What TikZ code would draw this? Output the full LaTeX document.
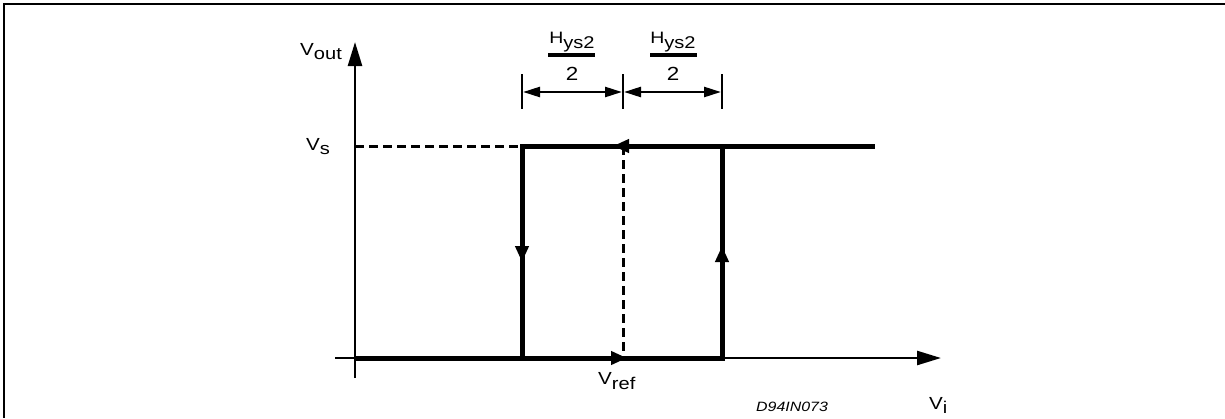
\documentclass[tikz,border=0pt]{standalone}
\usepackage{fontspec}
\setmainfont{Liberation Sans}
\usetikzlibrary{arrows.meta}
\newcommand{\wide}[1]{\scalebox{1.18}[1]{#1}}
\newcommand{\lowsub}[2][5pt]{\raisebox{-#1}{\fontsize{17}{17}\selectfont #2}}
\begin{document}
\begin{tikzpicture}[x=1pt,y=-1pt,
  axisarrow/.style={line width=2.5pt,-{Triangle[length=24pt,width=14pt]}},
  loop/.style={line width=5pt},
  dashln/.style={line width=3pt,dash pattern=on 9pt off 5pt},
  midarrow/.style={line width=5pt,-{Triangle[length=16pt,width=13pt]},shorten >=-2pt},
  dimline/.style={line width=2.5pt,{Triangle[length=17pt,width=10pt]}-{Triangle[length=17pt,width=10pt]}},
  tick/.style={line width=2.5pt},
  fracbar/.style={line width=3.5pt},
  lbl/.style={inner sep=0pt,font=\fontsize{17.5}{17.5}\selectfont},
  frame/.style={line width=2.5pt}
]
\useasboundingbox (0,0) rectangle (1225,418);
% frame (top and left edges)
\coordinate (f1) at (1225,4);
\coordinate (f2) at (4,4);
\coordinate (f3) at (4,418);
\draw[frame] (f1) -- (f2) -- (f3);

% axes
\coordinate (yb) at (355,378);
\coordinate (yt) at (355,42);
\coordinate (xl) at (335,358);
\coordinate (xr) at (941,358);
\draw[axisarrow] (yb) -- (yt);
\draw[axisarrow] (xl) -- (xr);

% loop corners
\coordinate (o) at (355,358);
\coordinate (bl) at (522,358);
\coordinate (br) at (722,358);
\coordinate (tl) at (522,146);
\coordinate (tr) at (722,146);
\coordinate (te) at (875,146);
\coordinate (ys) at (355,146);
\coordinate (mt) at (623,146);
\coordinate (mb) at (623,358);

% dashed lines
\draw[dashln] (ys) -- (tl);
\draw[dashln] (mt) -- (mb);

% thick hysteresis loop
\draw[loop,line join=miter] (o) -- (br) -- (tr);
\draw[loop,line join=miter] (bl) -- (tl) -- (te);

% direction arrows
\coordinate (a1s) at (628,146);
\coordinate (a1e) at (615,146);
\draw[midarrow] (a1s) -- (a1e);
\coordinate (a2s) at (612,358);
\coordinate (a2e) at (625,358);
\draw[midarrow] (a2s) -- (a2e);
\coordinate (a3s) at (522,245);
\coordinate (a3e) at (522,260);
\draw[midarrow] (a3s) -- (a3e);
\coordinate (a4s) at (722,263);
\coordinate (a4e) at (722,248);
\draw[midarrow] (a4s) -- (a4e);

% dimension ticks
\coordinate (t1a) at (522,74);\coordinate (t1b) at (522,109);
\coordinate (t2a) at (623,74);\coordinate (t2b) at (623,109);
\coordinate (t3a) at (722,74);\coordinate (t3b) at (722,109);
\draw[tick] (t1a) -- (t1b);
\draw[tick] (t2a) -- (t2b);
\draw[tick] (t3a) -- (t3b);
\coordinate (d1) at (523,92);
\coordinate (d2) at (622,92);
\coordinate (d3) at (624,92);
\coordinate (d4) at (721,92);
\draw[dimline] (d1) -- (d2);
\draw[dimline] (d3) -- (d4);

% fraction labels
\node[lbl,anchor=base,font=\fontsize{16.5}{16.5}\selectfont] (h1) at (572,43) {\wide{H\lowsub{ys2}}};
\coordinate (b1l) at (548,55);\coordinate (b1r) at (595,55);
\draw[fracbar] (b1l) -- (b1r);
\node[lbl,anchor=base,font=\fontsize{19}{19}\selectfont] (n1) at (572,80) {\wide{2}};
\node[lbl,anchor=base,font=\fontsize{16.5}{16.5}\selectfont] (h2) at (673,43) {\wide{H\lowsub{ys2}}};
\coordinate (b2l) at (650,55);\coordinate (b2r) at (697,55);
\draw[fracbar] (b2l) -- (b2r);
\node[lbl,anchor=base,font=\fontsize{19}{19}\selectfont] (n2) at (673,80) {\wide{2}};

% axis labels
\node[lbl,anchor=base west] (vout) at (300,55) {\wide{V\lowsub[4pt]{out}}};
\node[lbl,anchor=base west] (vs) at (306,150) {\wide{V\lowsub[4pt]{s}}};
\node[lbl,anchor=base west] (vref) at (598,384) {\wide{V\lowsub{ref}}};
\node[lbl,anchor=base west] (vi) at (929,409) {\wide{V\lowsub[4pt]{i}}};
\node[inner sep=0pt,anchor=base,font=\fontsize{13.5}{13.5}\selectfont\itshape] (code) at (792,411) {\wide{D94IN073}};
\end{tikzpicture}
\end{document}
